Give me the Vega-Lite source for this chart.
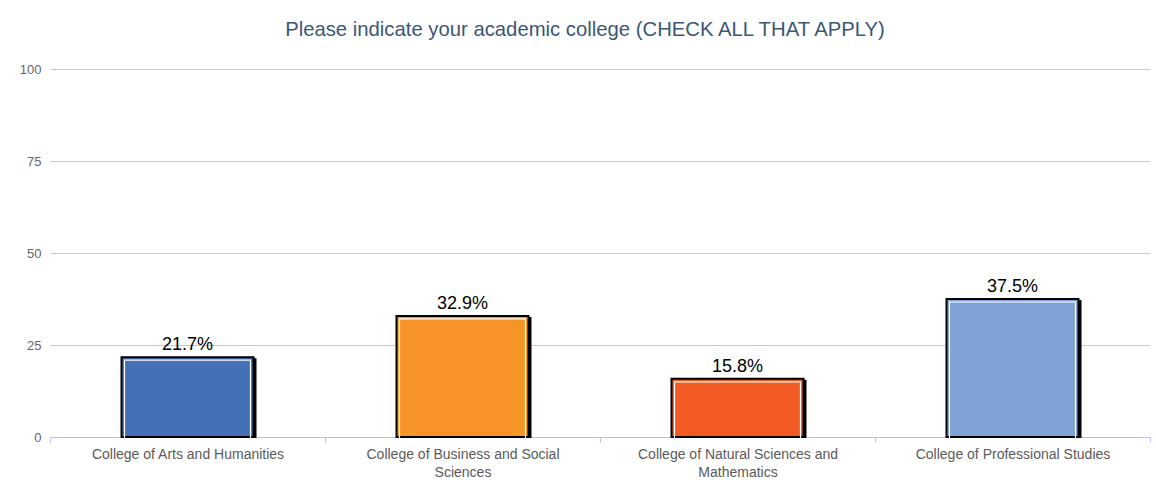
{
  "$schema": "https://vega.github.io/schema/vega-lite/v6.json",
  "width": 1100,
  "height": 368,
  "autosize": {"type": "none"},
  "padding": {"left": 50, "top": 69, "right": 6, "bottom": 51},
  "background": "white",
  "title": {
    "text": "Please indicate your academic college (CHECK ALL THAT APPLY)",
    "font": "Liberation Sans",
    "fontSize": 20.3,
    "fontWeight": "normal",
    "color": "#3b5776",
    "anchor": "middle",
    "offset": 23,
    "dx": -15
  },
  "config": {
    "view": {"stroke": null},
    "axis": {"labelFont": "Liberation Sans"}
  },
  "data": {
    "values": [
      {"college": "College of Arts and Humanities", "pct": 21.7},
      {"college": "College of Business and Social Sciences", "pct": 32.9},
      {"college": "College of Natural Sciences and Mathematics", "pct": 15.8},
      {"college": "College of Professional Studies", "pct": 37.5}
    ]
  },
  "transform": [
    {"calculate": "format(datum.pct, '.1f') + '%'", "as": "label"}
  ],
  "encoding": {
    "x": {
      "field": "college",
      "type": "nominal",
      "sort": null,
      "scale": {"paddingInner": 0, "paddingOuter": 0},
      "axis": {
        "title": null,
        "labelAngle": 0,
        "domainColor": "#b3c6e4",
        "tickColor": "#b3c6e4",
        "tickBand": "extent",
        "tickSize": 5,
        "labelColor": "#5a5a5a",
        "labelFontSize": 14,
        "labelPadding": 5,
        "labelLimit": 300,
        "labelLineHeight": 18,
        "labelExpr": "datum.label == 'College of Business and Social Sciences' ? ['College of Business and Social', 'Sciences'] : datum.label == 'College of Natural Sciences and Mathematics' ? ['College of Natural Sciences and', 'Mathematics'] : datum.label"
      }
    },
    "y": {
      "field": "pct",
      "type": "quantitative",
      "scale": {"domain": [0, 100]},
      "axis": {
        "title": null,
        "values": [0, 25, 50, 75, 100],
        "grid": true,
        "gridColor": "#c8c8c8",
        "domain": false,
        "ticks": false,
        "labelPadding": 9,
        "labelColor": "#666666",
        "labelFontSize": 13
      }
    }
  },
  "layer": [
    {
      "mark": {"type": "bar", "width": 132, "xOffset": 3, "yOffset": 1, "color": "black"}
    },
    {
      "mark": {"type": "bar", "width": 132, "stroke": "black", "strokeWidth": 2},
      "encoding": {
        "color": {
          "field": "college",
          "type": "nominal",
          "legend": null,
          "scale": {
            "domain": [
              "College of Arts and Humanities",
              "College of Business and Social Sciences",
              "College of Natural Sciences and Mathematics",
              "College of Professional Studies"
            ],
            "range": ["#4570b8", "#f79428", "#f15a22", "#7fa1d5"]
          }
        }
      }
    },
    {
      "mark": {"type": "bar", "width": 126, "fillOpacity": 0, "stroke": "white", "strokeWidth": 1.2, "yOffset": 3, "y2Offset": -3}
    },
    {
      "mark": {"type": "text", "dy": -3, "baseline": "bottom", "font": "Liberation Sans", "fontSize": 18, "color": "black"},
      "encoding": {"text": {"field": "label"}}
    }
  ]
}
